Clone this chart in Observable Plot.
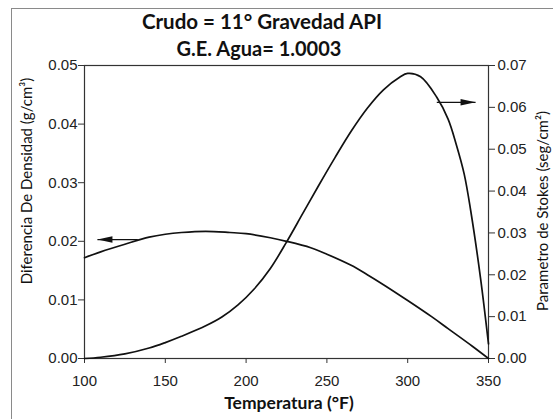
<!DOCTYPE html>
<html><head><meta charset="utf-8">
<script src="https://cdn.jsdelivr.net/npm/d3@7"></script>
<script src="https://cdn.jsdelivr.net/npm/@observablehq/plot@0.6"></script>
<style>
body{margin:0;background:#fff}
#chart{position:relative;width:553px;height:419px;overflow:hidden;background:#fff}
#frame{position:absolute;left:11px;top:8px;width:700px;height:600px;border-left:1.5px solid #8a8a8a;border-top:1.5px solid #8a8a8a;pointer-events:none}
</style>
</head><body><div id="chart"><div id="frame"></div></div>
<script>
const titleLines = ["Crudo = 11° Gravedad API", "G.E. Agua= 1.0003"];
const xLabel = "Temperatura (°F)";
const yLeftLabel = "Diferencia De Densidad (g/cm³)";
const yRightLabel = "Parametro de Stokes (seg/cm²)";
const xTicks = [100, 150, 200, 250, 300, 350];
const leftTicks = [0, 0.01, 0.02, 0.03, 0.04, 0.05];
const rightTicks = [0, 0.01, 0.02, 0.03, 0.04, 0.05, 0.06, 0.07];

const densityTemp  = [100, 110, 125, 140, 150, 160, 175, 190, 200, 215, 225, 240, 250, 265, 275, 285, 300, 315, 325, 340, 350];
const densityValue = [0.0172, 0.0182, 0.0195, 0.0207, 0.0212, 0.0215, 0.0217, 0.0215, 0.0213, 0.0206, 0.0200, 0.0189, 0.0178, 0.0159, 0.0143, 0.0126, 0.0099, 0.0071, 0.0051, 0.0021, 0.0];

const stokesTemp  = [100, 110, 125, 140, 150, 160, 175, 185, 195, 205, 215, 225, 235, 245, 255, 265, 275, 285, 295, 300, 308, 318, 325, 330, 335, 339, 345, 350];
const stokesValue = [0.0, 0.0003, 0.0011, 0.0025, 0.0038, 0.0053, 0.0078, 0.0099, 0.0128, 0.0166, 0.0215, 0.0278, 0.0346, 0.0414, 0.0480, 0.0543, 0.0598, 0.0642, 0.0672, 0.0681, 0.0673, 0.0624, 0.0572, 0.0512, 0.0440, 0.0353, 0.0194, 0.0035];

// arrows: start temp, tip temp, level, which axis the level refers to
const arrowFrom  = [133, 318];
const arrowTo    = [108, 342];
const arrowLevel = [0.0203, 0.0612];
const arrowAxis  = ["left", "right"];

const ratio = 0.05 / 0.07; // right-axis value -> left-axis units

const density = densityTemp.map((t, i) => ({t, v: densityValue[i]}));
const stokes = stokesTemp.map((t, i) => ({t, v: stokesValue[i] * ratio}));
const arrows = arrowFrom.map((f, i) => ({
  x1: f, x2: arrowTo[i],
  y: arrowAxis[i] === "left" ? arrowLevel[i] : arrowLevel[i] * ratio,
  rot: arrowTo[i] > f ? 0 : 180
}));

const arrowHead = {
  draw(ctx, size) {
    const r = Math.sqrt(size / Math.PI);
    const L = r * 3, w = r * 0.65;
    ctx.moveTo(0, 0); ctx.lineTo(-L, -w); ctx.lineTo(-L, w); ctx.closePath();
  }
};

const svg = Plot.plot({
  width: 553, height: 419,
  marginLeft: 84, marginRight: 65, marginTop: 65, marginBottom: 61,
  x: {domain: [100, 350]},
  y: {domain: [0, 0.05]},
  style: {fontFamily: "'Liberation Sans', Arial, sans-serif", fontSize: "15px", color: "#222", background: "transparent"},
  marks: [
    Plot.frame({stroke: "#333", strokeWidth: 1.2}),
    Plot.axisX(xTicks, {tickSize: 5, tickPadding: 12, label: null, tickFormat: d => String(d), stroke: "#333"}),
    Plot.axisY(leftTicks, {tickSize: 6, tickPadding: 1, label: null, tickFormat: d => d.toFixed(2), stroke: "#333"}),
    Plot.axisY(rightTicks.map(d => d * ratio), {anchor: "right", tickSize: 6, tickPadding: 3, label: null, tickFormat: d => (d / ratio).toFixed(2), stroke: "#333"}),
    Plot.line(density, {x: "t", y: "v", curve: "catmull-rom", stroke: "#111", strokeWidth: 1.7}),
    Plot.line(stokes, {x: "t", y: "v", curve: "catmull-rom", stroke: "#111", strokeWidth: 1.7}),
    Plot.link(arrows, {x1: "x1", x2: "x2", y1: "y", y2: "y", stroke: "#111", strokeWidth: 1.3}),
    Plot.dot(arrows, {x: "x2", y: "y", symbol: arrowHead, r: 5, fill: "#111", stroke: "none", rotate: "rot"})
  ]
});

const s = d3.select(svg);
const titleFont = "Lato, 'Open Sans', sans-serif";
s.append("text").attr("x", 262).attr("y", 29).attr("text-anchor", "middle")
  .style("font-family", titleFont).style("font-size", "20.5px").style("font-weight", "bold").attr("fill", "#111")
  .text(titleLines[0]);
s.append("text").attr("x", 259).attr("y", 56).attr("text-anchor", "middle")
  .style("font-family", titleFont).style("font-size", "20px").style("font-weight", "bold").attr("fill", "#111")
  .text(titleLines[1]);
s.append("text").attr("x", 289).attr("y", 409).attr("text-anchor", "middle")
  .style("font-family", titleFont).style("font-size", "17.5px").style("font-weight", "bold").attr("fill", "#111")
  .text(xLabel);
s.append("text").attr("transform", "translate(32,181) rotate(-90)").attr("text-anchor", "middle")
  .style("font-family", titleFont).style("font-size", "15px").attr("fill", "#111")
  .text(yLeftLabel);
s.append("text").attr("transform", "translate(548,211) rotate(-90)").attr("text-anchor", "middle")
  .style("font-family", titleFont).style("font-size", "15px").attr("fill", "#111")
  .text(yRightLabel);

document.getElementById("chart").appendChild(svg);
svg.style.position = "absolute"; svg.style.left = "0"; svg.style.top = "0";
</script>
</body></html>
